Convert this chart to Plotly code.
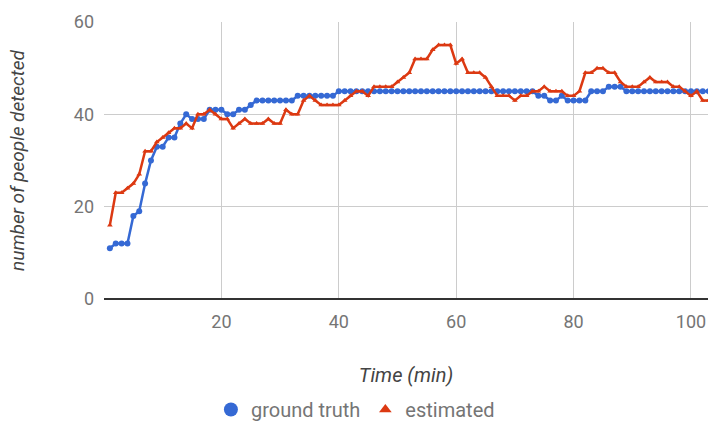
import plotly.graph_objects as go

minutes = list(range(1, 104))

ground_truth = [
    11, 12, 12, 12, 18, 19, 25, 30, 33, 33,   # 1-10
    35, 35, 38, 40, 39, 39, 39, 41, 41, 41,   # 11-20
    40, 40, 41, 41, 42, 43, 43, 43, 43, 43,   # 21-30
    43, 43, 44, 44, 44, 44, 44, 44, 44, 45,   # 31-40
    45, 45, 45, 45, 45, 45, 45, 45, 45, 45,   # 41-50
    45, 45, 45, 45, 45, 45, 45, 45, 45, 45,   # 51-60
    45, 45, 45, 45, 45, 45, 45, 45, 45, 45,   # 61-70
    45, 45, 45, 44, 44, 43, 43, 44, 43, 43,   # 71-80
    43, 43, 45, 45, 45, 46, 46, 46, 45, 45,   # 81-90
    45, 45, 45, 45, 45, 45, 45, 45, 45, 45,   # 91-100
    45, 45, 45,                               # 101-103
]

estimated = [
    16, 23, 23, 24, 25, 27, 32, 32, 34, 35,   # 1-10
    36, 37, 37, 38, 37, 40, 40, 41, 40, 39,   # 11-20
    39, 37, 38, 39, 38, 38, 38, 39, 38, 38,   # 21-30
    41, 40, 40, 43, 44, 43, 42, 42, 42, 42,   # 31-40
    43, 44, 45, 45, 44, 46, 46, 46, 46, 47,   # 41-50
    48, 49, 52, 52, 52, 54, 55, 55, 55, 51,   # 51-60
    52, 49, 49, 49, 48, 46, 44, 44, 44, 43,   # 61-70
    44, 44, 45, 45, 46, 45, 45, 45, 44, 44,   # 71-80
    45, 49, 49, 50, 50, 49, 49, 47, 46, 46,   # 81-90
    46, 47, 48, 47, 47, 47, 46, 46, 45, 44,   # 91-100
    45, 43, 43,                               # 101-103
]

x_ticks = [20, 40, 60, 80, 100]
y_ticks = [0, 20, 40, 60]

BLUE = "#3569D4"
RED = "#DC3912"
FONT = "Roboto"

fig = go.Figure()
fig.add_trace(go.Scatter(
    x=minutes, y=ground_truth, mode="lines+markers", name="ground truth",
    line=dict(color=BLUE, width=2.5), marker=dict(symbol="circle", size=6, color=BLUE),
    showlegend=False,
))
fig.add_trace(go.Scatter(
    x=minutes, y=estimated, mode="lines+markers", name="estimated",
    line=dict(color=RED, width=2.5), marker=dict(symbol="triangle-up", size=5, color=RED),
    showlegend=False,
))
# legend-only entries (markers without line, as in the reference legend)
fig.add_trace(go.Scatter(x=[None], y=[None], mode="markers", name="ground truth",
                         marker=dict(symbol="circle", size=14, color=BLUE)))
fig.add_trace(go.Scatter(x=[None], y=[None], mode="markers", name="estimated",
                         marker=dict(symbol="triangle-up", size=11, color=RED)))

fig.update_layout(
    width=708, height=423,
    margin=dict(l=104, r=0, t=22, b=124, autoexpand=False),
    paper_bgcolor="white", plot_bgcolor="white",
    font=dict(family=FONT, size=18, color="#757575"),
    legend=dict(orientation="h", xref="container", yref="container",
                x=0.502, xanchor="center", y=0.032, yanchor="middle",
                font=dict(family=FONT, size=20, color="#757575"), itemwidth=30,
                bgcolor="rgba(0,0,0,0)"),
    xaxis=dict(
        range=[0.0, 102.9], tickvals=x_ticks, ticktext=[str(v) for v in x_ticks],
        showgrid=True, gridcolor="#cccccc", gridwidth=1, zeroline=False, showline=False,
        ticks="", ticklabelstandoff=10, automargin=False,
        tickfont=dict(family=FONT, size=18, color="#757575"),
        title=dict(text="<i>Time (min)</i>", standoff=36,
                   font=dict(family=FONT, size=20, color="#444444")),
    ),
    yaxis=dict(
        range=[0, 60], tickvals=y_ticks, ticktext=[str(v) for v in y_ticks],
        showgrid=True, gridcolor="#cccccc", gridwidth=1,
        zeroline=True, zerolinecolor="#333333", zerolinewidth=1.5, showline=False,
        ticks="", ticklabelstandoff=9, automargin=False,
        tickfont=dict(family=FONT, size=18, color="#757575"),
        title=dict(text="<i>number of people detected</i>", standoff=44,
                   font=dict(family=FONT, size=19, color="#444444")),
    ),
)

# remove the browser's default 8px body margin so the figure fills the window
fig.write_html("out.html", config={"displayModeBar": False},
               post_script="document.body.style.margin='0';")
